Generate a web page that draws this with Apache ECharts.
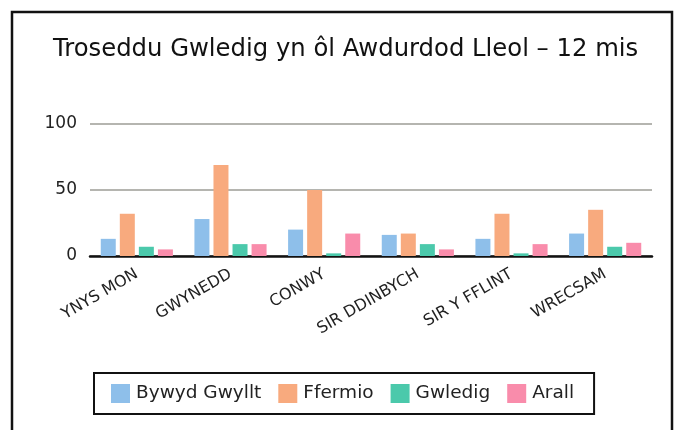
<!DOCTYPE html>
<html>
<head>
<meta charset="utf-8">
<script src="https://cdn.jsdelivr.net/npm/echarts@6/dist/echarts.min.js"></script>
<style>
html,body{margin:0;padding:0;background:#fff;}
#c{width:678px;height:430px;}
</style>
</head>
<body>
<div id="c"></div>
<script>
const categories = ['YNYS MON','GWYNEDD','CONWY','SIR DDINBYCH','SIR Y FFLINT','WRECSAM'];
const seriesNames = ['Bywyd Gwyllt','Ffermio','Gwledig','Arall'];
const bywydGwyllt = [13, 28, 20, 16, 13, 17];
const ffermio = [32, 69, 50, 17, 32, 35];
const gwledig = [7, 9, 2, 9, 2, 7];
const arall = [5, 9, 17, 5, 9, 10];
const yTicks = [0, 50, 100];
const colors = ['#8EBFEA', '#F8AA7E', '#4BC9AB', '#F98CAB'];

const FONT = '"DejaVu Sans", sans-serif';
const values = [bywydGwyllt, ffermio, gwledig, arall];

const chart = echarts.init(document.getElementById('c'), null, {renderer: 'canvas'});
chart.setOption({
  animation: false,
  color: colors,
  textStyle: {fontFamily: FONT},
  graphic: [{
    type: 'rect',
    shape: {x: 12, y: 12, width: 660, height: 440},
    style: {fill: 'none', stroke: '#111', lineWidth: 2.5},
    z: -1
  }],
  title: {
    text: 'Troseddu Gwledig yn ôl Awdurdod Lleol – 12 mis',
    left: 48,
    top: 33,
    textStyle: {fontFamily: FONT, fontSize: 24.3, fontWeight: 'normal', color: '#111'}
  },
  legend: {
    data: seriesNames,
    left: 94,
    top: 373,
    padding: [11, 20, 11, 17],
    itemWidth: 19,
    itemHeight: 19,
    itemGap: 17,
    borderColor: '#111',
    borderWidth: 2,
    icon: 'rect',
    textStyle: {fontFamily: FONT, fontSize: 18.5, color: '#222', padding: [0, 0, 0, 1]}
  },
  grid: {left: 90, right: 26, top: 124, bottom: 174, containLabel: false},
  xAxis: {
    type: 'category',
    data: categories,
    axisLine: {lineStyle: {color: '#111', width: 2.5}},
    axisTick: {show: false},
    axisLabel: {rotate: 30, fontSize: 16, color: '#222', fontFamily: FONT, margin: 17, interval: 0}
  },
  yAxis: {
    type: 'value',
    min: yTicks[0],
    max: yTicks[yTicks.length - 1],
    interval: 50,
    axisLine: {show: false},
    axisTick: {show: false},
    axisLabel: {fontSize: 17, color: '#222', fontFamily: FONT, margin: 13},
    splitLine: {lineStyle: {color: '#b5b5b0', width: 2}}
  },
  series: seriesNames.map((n, i) => ({
    name: n,
    type: 'bar',
    data: values[i],
    barWidth: 15,
    barGap: '27%',
    itemStyle: {color: colors[i]}
  }))
});
</script>
</body>
</html>
